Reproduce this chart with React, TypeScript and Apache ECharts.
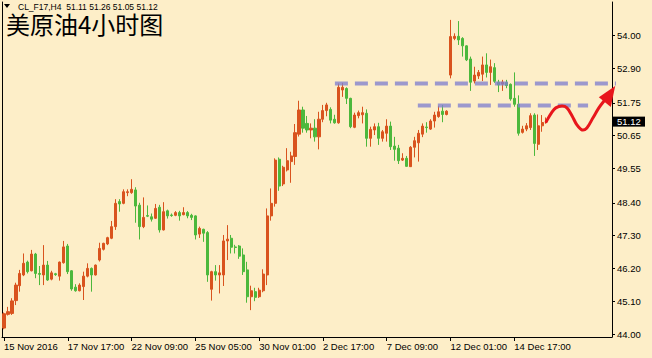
import React, { useEffect, useRef } from "react";
import * as echarts from "echarts";

// [open, high, low, close] per H4 bar
const CANDLES: [number, number, number, number][] = [
  [44.2, 44.72, 44.16, 44.68],
  [44.66, 44.91, 44.62, 44.75],
  [44.69, 45.2, 44.64, 45.11],
  [45.12, 45.72, 44.97, 45.64],
  [45.62, 46.15, 45.42, 46.03],
  [45.98, 46.7, 45.94, 46.37],
  [46.41, 46.46, 46.03, 46.09],
  [46.12, 46.82, 46.1, 46.68],
  [46.68, 46.72, 45.87, 46.03],
  [46.03, 46.28, 45.64, 46.0],
  [45.98, 46.98, 45.64, 46.31],
  [46.31, 46.45, 45.78, 45.81],
  [45.84, 46.12, 45.8, 46.05],
  [46.02, 46.05, 45.95, 45.99],
  [45.94, 46.43, 45.79, 46.41],
  [46.39, 47.12, 46.36, 46.92],
  [46.95, 47.02, 46.01, 46.09],
  [46.12, 46.14, 45.45, 45.51],
  [45.57, 45.67, 45.42, 45.45],
  [45.45, 45.7, 45.43, 45.64],
  [45.59, 46.09, 45.14, 45.94],
  [45.94, 46.37, 45.9, 46.2],
  [46.2, 46.23, 45.42, 45.98],
  [45.98, 46.33, 45.96, 46.31],
  [46.48, 47.06, 46.43, 46.87],
  [46.84, 47.06, 46.8, 47.04],
  [47.02, 47.26, 46.98, 47.23],
  [47.21, 47.79, 47.18, 47.6],
  [47.6, 48.52, 47.49, 48.38],
  [48.44, 48.52, 48.1, 48.36],
  [48.38, 48.85, 48.35, 48.77],
  [48.74, 48.85, 48.62, 48.77],
  [48.74, 49.19, 48.7, 48.85],
  [48.83, 48.92, 47.73, 48.29],
  [48.32, 48.4, 47.17, 47.6],
  [47.6, 48.58, 47.55, 47.91],
  [47.97, 48.31, 47.92, 47.95],
  [47.93, 48.04, 47.77, 47.85],
  [47.88, 48.36, 47.86, 48.21],
  [48.25, 48.33, 47.4, 47.49],
  [47.49, 48.42, 47.47, 48.1],
  [48.13, 48.17, 47.87, 47.96],
  [47.99, 48.04, 47.93, 47.97],
  [47.98, 48.12, 47.95, 48.07],
  [48.07, 48.13, 47.8, 47.96],
  [48.0, 48.25, 47.98, 48.07],
  [48.07, 48.12, 47.88, 47.96],
  [47.98, 48.03, 47.82, 47.91],
  [47.96, 47.98, 47.17, 47.32],
  [47.35, 47.6, 47.22, 47.54],
  [47.51, 47.53, 47.09, 47.38],
  [47.4, 47.45, 45.75, 45.98],
  [45.5, 46.12, 45.12, 46.09],
  [46.09, 46.31, 45.79, 45.98],
  [45.98, 46.31, 45.36, 46.05],
  [45.98, 47.32, 45.61, 47.12],
  [47.12, 47.65, 46.48, 47.18],
  [47.21, 47.32, 46.7, 46.91],
  [46.92, 46.99, 46.7, 46.9],
  [46.95, 46.98, 46.52, 46.61],
  [46.65, 46.87, 45.98, 46.09],
  [46.15, 46.42, 45.05, 45.25],
  [45.25, 45.62, 44.8, 45.45],
  [45.42, 45.55, 45.1, 45.23],
  [45.25, 45.55, 45.21, 45.47],
  [45.45, 46.17, 45.4, 46.01],
  [45.98, 48.21, 45.64, 47.96],
  [47.96, 48.88, 47.8, 48.38],
  [48.38, 49.89, 48.27, 49.83],
  [49.86, 49.92, 48.8, 48.96],
  [49.03, 49.64, 48.96, 49.59],
  [49.5, 50.23, 49.45, 49.81],
  [49.78, 50.11, 49.07, 49.97],
  [49.95, 51.04, 49.67, 50.75],
  [50.7, 51.82, 50.62, 51.51],
  [51.51, 51.62, 50.75, 50.9],
  [51.06, 51.31, 50.75, 50.84],
  [50.84, 51.06, 50.56, 50.9],
  [50.9, 51.2, 50.45, 50.61],
  [50.61, 51.45, 50.19, 51.2],
  [51.2, 51.68, 51.1, 51.49],
  [51.49, 51.75, 51.3, 51.68],
  [51.53, 51.6, 51.06, 51.17],
  [51.2, 51.35, 51.05, 51.08],
  [51.08, 52.4, 51.05, 52.27],
  [52.18, 52.42, 51.95, 52.27],
  [52.23, 52.27, 51.71, 51.9],
  [51.9, 51.92, 50.9, 50.95],
  [50.93, 51.42, 50.9, 51.34],
  [51.32, 51.49, 51.23, 51.42],
  [51.35, 51.62, 51.06, 51.42],
  [51.4, 51.53, 50.28, 50.56],
  [50.56, 50.95, 50.28, 50.86],
  [50.84, 51.06, 50.67, 50.95],
  [50.95, 51.08, 50.34, 50.56],
  [50.56, 50.84, 50.45, 50.78],
  [50.73, 51.2, 50.45, 50.97],
  [50.97, 51.12, 50.17, 50.28],
  [50.3, 50.61, 49.81, 50.19],
  [50.23, 50.34, 49.7, 49.81],
  [49.83, 50.06, 49.8, 49.89],
  [49.89, 49.97, 49.61, 49.62],
  [49.61, 50.3, 49.6, 50.26],
  [50.26, 50.61, 49.92, 50.48],
  [50.41, 50.84, 49.78, 50.73],
  [50.7, 51.06, 50.6, 50.97],
  [50.94, 51.1, 50.75, 50.92],
  [50.87, 51.2, 50.84, 51.14],
  [51.14, 51.45, 50.92, 51.34],
  [51.29, 51.65, 51.25, 51.45],
  [51.47, 51.68, 51.1, 51.36],
  [51.36, 51.5, 51.33, 51.47],
  [52.68, 54.53, 52.57, 53.97],
  [53.91, 54.08, 53.85, 53.98],
  [53.98, 54.49, 53.69, 53.86],
  [53.91, 53.95, 53.3, 53.66],
  [53.66, 53.68, 53.15, 53.19],
  [53.22, 53.3, 52.15, 52.44],
  [52.48, 52.96, 52.4, 52.68],
  [52.65, 52.85, 52.55, 52.77],
  [52.71, 53.3, 52.48, 53.02],
  [53.02, 53.41, 52.6, 52.77],
  [52.77, 53.2, 52.35, 52.96],
  [52.93, 53.08, 52.42, 52.47],
  [52.44, 52.52, 52.11, 52.35],
  [52.38, 52.52, 52.15, 52.44],
  [52.43, 52.52, 52.24, 52.33],
  [52.37, 52.4, 51.82, 51.88],
  [51.9, 52.77, 51.62, 51.7],
  [51.7, 52.0, 50.65, 50.73],
  [50.76, 50.98, 50.72, 50.87],
  [50.87, 51.07, 50.8, 50.98],
  [50.92, 51.4, 50.84, 51.32],
  [51.34, 51.4, 49.97, 50.39],
  [50.36, 51.36, 50.17, 50.98],
  [50.98, 51.34, 50.78, 51.09],
  [51.11, 51.26, 51.05, 51.12],
];

const SLOT_COUNT = 153; // bar slots on the time axis (incl. chart shift)
const X_TICK_INDICES = [0, 16, 32, 48, 64, 80, 96, 112, 128];
const X_TICK_LABELS = [
  "15 Nov 2016",
  "17 Nov 17:00",
  "22 Nov 09:00",
  "25 Nov 05:00",
  "30 Nov 01:00",
  "2 Dec 17:00",
  "7 Dec 09:00",
  "12 Dec 01:00",
  "14 Dec 17:00",
];
const Y_TICK_VALUES = [44.0, 45.1, 46.2, 47.3, 48.4, 49.55, 50.65, 51.75, 52.9, 54.0];
const Y_MIN = 43.9;
const Y_MAX = 55.13;

// dashed resistance lines: price, from bar index, to bar index
const LEVEL_PRICES = [52.4, 51.66];
const LEVEL_FROM = [83.0, 103.8];
const LEVEL_TO = [153.5, 146.5];

// hand-drawn forecast wave [bar index, price]
const ARROW_WAVE: [number, number][] = [
  [136, 51.12],
  [137.4, 51.43],
  [138.4, 51.58],
  [139.96, 51.64],
  [141.2, 51.58],
  [142.5, 51.31],
  [143.7, 51.01],
  [145.0, 50.84],
  [146.2, 50.91],
  [147.7, 51.24],
  [149.2, 51.58],
  [150.5, 51.81],
];
const ARROW_HEAD: [number, number][] = [
  [153.3, 52.31],
  [149.2, 51.94],
  [152.2, 51.61],
];

const TITLE_SMALL = "CL_F17,H4  51.11 51.26 51.05 51.12";
const TITLE_BIG = "美原油4小时图";

const BG = "#FDEEC8";
const UP = "#D9531E";
const DOWN = "#4CB83C";
const LATIN = "'Liberation Sans', Arial, sans-serif";

export default function App() {
  const ref = useRef<HTMLDivElement>(null);
  useEffect(() => {
    if (!ref.current) return;
    const chart = echarts.init(ref.current, undefined, { renderer: "svg" });
    const cats = Array.from({ length: SLOT_COUNT }, (_, i) => {
      const k = X_TICK_INDICES.indexOf(i);
      return k >= 0 ? X_TICK_LABELS[k] : "";
    });
    const isTick = (i: number) => X_TICK_INDICES.indexOf(i) >= 0;
    chart.setOption({
      animation: false,
      backgroundColor: BG,
      grid: { left: 2, right: 40, top: 2, bottom: 21 },
      xAxis: {
        type: "category",
        data: cats,
        boundaryGap: true,
        axisLine: { show: true, lineStyle: { color: "#000", width: 1 } },
        axisTick: {
          show: true,
          alignWithLabel: true,
          interval: (i: number) => isTick(i),
          length: 4,
          lineStyle: { color: "#000" },
        },
        axisLabel: {
          interval: (i: number) => isTick(i),
          align: "left",
          margin: 4,
          color: "#000",
          fontSize: 9.5,
          fontFamily: LATIN,
        },
        splitLine: { show: false },
      },
      yAxis: [
        {
          type: "value",
          position: "right",
          min: Y_MIN,
          max: Y_MAX,
          scale: true,
          axisLine: { show: true, lineStyle: { color: "#000", width: 1 } },
          axisTick: {
            show: true,
            length: 3,
            customValues: Y_TICK_VALUES,
            lineStyle: { color: "#000" },
          },
          axisLabel: {
            customValues: Y_TICK_VALUES,
            formatter: (v: number) => v.toFixed(2),
            margin: 5,
            color: "#000",
            fontSize: 9.5,
            fontFamily: LATIN,
          },
          splitLine: { show: false },
        },
        {
          type: "value",
          position: "left",
          min: Y_MIN,
          max: Y_MAX,
          axisLine: { show: true, onZero: false, lineStyle: { color: "#000", width: 1 } },
          axisTick: { show: false },
          axisLabel: { show: false },
          splitLine: { show: false },
        },
      ],
      series: [
        {
          type: "candlestick",
          data: CANDLES.map(([o, h, l, c]) => [o, c, l, h]),
          barWidth: 2.6,
          itemStyle: {
            color: UP,
            color0: DOWN,
            borderColor: UP,
            borderColor0: DOWN,
            borderWidth: 1,
          },
        },
      ],
    });

    const px = (i: number, p: number) =>
      chart.convertToPixel({ xAxisIndex: 0, yAxisIndex: 0 }, [i, p]) as number[];
    const a = px(0, 50);
    const b = px(1, 50);
    const step = b[0] - a[0];
    const toPx = (i: number, p: number) => {
      const y = px(0, p)[1];
      return [a[0] + i * step, y];
    };

    const graphics: any[] = [];
    LEVEL_PRICES.forEach((p, k) => {
      const s = toPx(LEVEL_FROM[k], p);
      const e = toPx(LEVEL_TO[k], p);
      graphics.push({
        type: "line",
        z: 20,
        shape: { x1: s[0], y1: s[1], x2: e[0], y2: e[1] },
        style: { stroke: "rgba(128,128,206,0.78)", lineWidth: 4, lineDash: [13, 7] },
      });
    });
    graphics.push({
      type: "polyline",
      z: 21,
      shape: { points: ARROW_WAVE.map(([i, p]) => toPx(i, p)), smooth: 0.35 },
      style: { stroke: "#E8161C", lineWidth: 3, fill: null, lineCap: "round" },
    });
    graphics.push({
      type: "polygon",
      z: 21,
      shape: { points: ARROW_HEAD.map(([i, p]) => toPx(i, p)) },
      style: { fill: "#E8161C" },
    });
    const last = CANDLES[CANDLES.length - 1][3];
    const ly = toPx(0, last)[1];
    graphics.push({
      type: "rect",
      z: 22,
      shape: { x: 613, y: ly - 5, width: 32, height: 10 },
      style: { fill: "#000" },
    });
    graphics.push({
      type: "text",
      z: 23,
      x: 617,
      y: ly,
      style: {
        text: last.toFixed(2),
        fill: "#fff",
        fontSize: 9.5,
        fontFamily: LATIN,
        verticalAlign: "middle",
      },
    });
    graphics.push({
      type: "polygon",
      z: 22,
      shape: { points: [[4, 4], [10, 4], [7, 8]] },
      style: { fill: "#000" },
    });
    graphics.push({
      type: "text",
      z: 22,
      x: 18,
      y: 6.5,
      style: {
        text: TITLE_SMALL,
        fill: "#000",
        fontSize: 8.5,
        lineHeight: 9,
        fontFamily: LATIN,
        verticalAlign: "middle",
      },
    });
    graphics.push({
      type: "text",
      z: 22,
      x: 6,
      y: 12,
      style: {
        text: TITLE_BIG,
        fill: "#000",
        fontSize: 24,
        lineHeight: 22,
        fontFamily: "'Noto Sans CJK SC', sans-serif",
        verticalAlign: "top",
      },
    });
    chart.setOption({ graphic: graphics });

    return () => chart.dispose();
  }, []);
  return (
    <div
      ref={ref}
      style={{ position: "fixed", left: 0, top: 0, width: 652, height: 358, background: BG }}
    />
  );
}
